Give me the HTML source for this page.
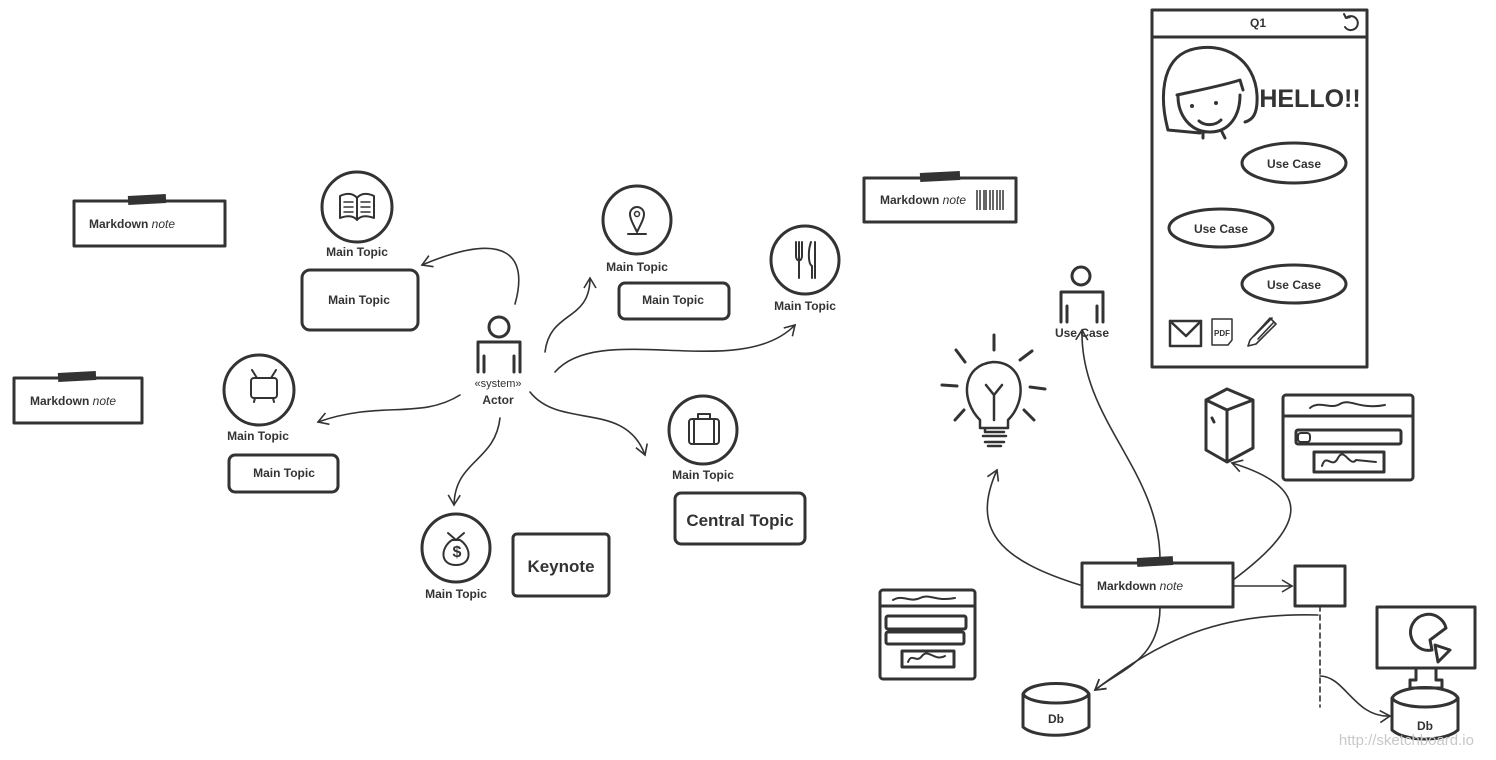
<!DOCTYPE html>
<html><head><meta charset="utf-8"><style>
html,body{margin:0;padding:0;background:#fff}
svg{display:block}
text{font-family:"Liberation Sans",sans-serif;fill:#333}
.b{font-weight:bold;font-size:12px}
</style></head><body>
<svg width="1496" height="760" viewBox="0 0 1496 760" xmlns="http://www.w3.org/2000/svg">
<defs>
<marker id="ah" markerWidth="14" markerHeight="14" refX="11" refY="7" orient="auto" markerUnits="userSpaceOnUse">
<path d="M1,1 L11,7 L1,13" fill="none" stroke="#333" stroke-width="1.6"/></marker>
</defs>
<g fill="none" stroke="#333" stroke-width="3" stroke-linejoin="round" stroke-linecap="round">
<!-- notes -->
<rect x="74" y="201" width="151" height="45"/>
<rect x="14" y="378" width="128" height="45"/>
<rect x="864" y="178" width="152" height="44"/>
<rect x="1082" y="563" width="151" height="44"/>
<!-- topic circles -->
<circle cx="357" cy="207" r="35"/>
<circle cx="259" cy="390" r="35"/>
<circle cx="637" cy="220" r="34"/>
<circle cx="805" cy="260" r="34"/>
<circle cx="703" cy="430" r="34"/>
<circle cx="456" cy="548" r="34"/>
<!-- topic boxes -->
<rect x="302" y="270" width="116" height="60" rx="8"/>
<rect x="229" y="455" width="109" height="37" rx="6"/>
<rect x="619" y="283" width="110" height="36" rx="6"/>
<rect x="675" y="493" width="130" height="51" rx="6"/>
<rect x="513" y="534" width="96" height="62" rx="4"/>
<!-- actor -->
<circle cx="499" cy="327" r="10"/>
<path d="M478,372 V342 H520 V372 M484,372 V356 M514,372 V356"/>
<circle cx="1081" cy="276" r="9"/>
<path d="M1061,322 V292 H1103 V322 M1067,322 V306 M1097,322 V306"/>
<!-- phone -->
<rect x="1152" y="10" width="215" height="357"/>
<line x1="1152" y1="37" x2="1367" y2="37"/>
<ellipse cx="1294" cy="163" rx="52" ry="20"/>
<ellipse cx="1221" cy="228" rx="52" ry="19"/>
<ellipse cx="1294" cy="284" rx="52" ry="19"/>
<!-- girl -->
<path d="M1168,130 C1160,100 1160,60 1190,50 C1225,40 1255,60 1257,95 C1258,115 1252,120 1245,122 M1177,95 C1200,90 1225,85 1240,80 L1243,90 M1178,96 C1178,115 1190,132 1210,132 C1230,132 1240,115 1240,95 M1168,130 L1200,133 M1203,132 L1203,138 M1222,132 L1225,138"/>
<path d="M1199,121 C1205,126 1215,126 1221,120"/>
<!-- lightbulb -->
<path d="M980,420 C960,400 962,365 993,362 C1025,362 1028,400 1008,420 V428 H980 Z M985,428 V432 H1004 M983,436 H1006 M985,442 H1004 M988,446 H1001 M994,420 V395 L986,385 M994,395 L1002,385" stroke-width="2.5"/>
<path d="M956,350 L965,362 M942,385 L957,386 M1030,387 L1045,389 M1020,360 L1032,351 M994,335 V350 M955,420 L964,410 M1034,420 L1024,410" stroke-width="3"/>
<!-- server -->
<path d="M1206,400 L1227,389 L1253,400 V448 L1227,462 L1206,450 Z M1206,400 L1227,410 L1253,400 M1227,410 V462 M1212,418 L1214,422"/>
<!-- window right -->
<rect x="1283" y="395" width="130" height="85" rx="3"/>
<line x1="1283" y1="416" x2="1413" y2="416"/>
<path d="M1310,408 C1320,400 1330,410 1340,404 S1360,410 1385,405" stroke-width="2"/>
<rect x="1296" y="430" width="105" height="14" rx="2"/>
<rect x="1298" y="433" width="12" height="9" rx="3" stroke-width="2"/>
<rect x="1314" y="452" width="70" height="20"/>
<path d="M1322,466 C1326,452 1332,470 1338,458 S1350,468 1356,460 L1376,462" stroke-width="2"/>
<!-- window left -->
<rect x="880" y="590" width="95" height="89" rx="3"/>
<line x1="880" y1="606" x2="975" y2="606"/>
<path d="M893,600 C903,594 910,603 920,598 S935,602 955,598" stroke-width="2"/>
<rect x="886" y="616" width="80" height="13" rx="2"/>
<rect x="886" y="632" width="78" height="12" rx="2"/>
<rect x="902" y="651" width="52" height="16"/>
<path d="M908,662 C912,652 916,664 922,656 S935,662 945,656" stroke-width="2"/>
<!-- small square -->
<rect x="1295" y="566" width="50" height="40"/>
<!-- Dbs -->
<path d="M1023,694 V727 C1035,738 1075,738 1089,727 V694 M1023,694 C1030,680 1082,680 1089,694 C1082,706 1030,706 1023,694"/>
<path d="M1392,698 V730 C1405,742 1445,742 1458,730 V698 M1392,698 C1400,684 1450,684 1458,698 C1450,710 1400,710 1392,698"/>
<!-- monitor -->
<rect x="1377" y="607" width="98" height="61"/>
<path d="M1416,668 V680 H1410 V688 H1442 V680 H1436 V668"/>
<path d="M1432,650 A18,18 0 1 1 1446,628 L1430,640 Z M1435,645 L1450,650 L1438,662 Z"/>
<!-- envelope pdf pencil -->
<rect x="1170" y="321" width="31" height="25" stroke-width="2.5"/>
<path d="M1170,321 L1186,336 L1201,321" stroke-width="2.5"/>
<path d="M1212,319 H1232 V340 L1228,345 H1212 Z" stroke-width="1.5"/>
<path d="M1250,340 L1270,318 L1276,324 L1256,344 L1248,346 Z M1254,336 L1272,318 M1258,339 L1274,322" stroke-width="1.6"/>
<path d="M1346,18 A7,7 0 1 1 1345,27 M1346,18 L1344,14 M1346,18 L1350,17" stroke-width="2"/>
<!-- icons inside circles -->
<path d="M340,196 C348,192 354,194 357,198 C360,194 366,192 374,196 V218 C366,215 360,216 357,220 C354,216 348,215 340,218 Z M357,198 V220" stroke-width="2"/>
<path d="M344,202 H353 M344,207 H353 M344,212 H353 M361,202 H370 M361,207 H370 M361,212 H370" stroke-width="1.5"/>
<rect x="251" y="378" width="26" height="20" rx="3" stroke-width="2"/>
<path d="M257,378 L252,370 M271,378 L276,370 M255,398 L254,402 M273,398 L274,402" stroke-width="2"/>
<path d="M637,232 C632,222 630,218 630,214 A7,7 0 0 1 644,214 C644,218 642,222 637,232 Z M628,234 H646" stroke-width="2"/>
<circle cx="637" cy="214" r="2.5" stroke-width="1.5"/>
<path d="M796,242 V256 C796,262 802,262 802,256 V242 M799,242 V278 M811,242 C808,250 808,264 812,266 V278 M815,242 V278" stroke-width="2"/>
<rect x="689" y="419" width="30" height="25" rx="3" stroke-width="2"/>
<path d="M698,419 V414 H710 V419 M694,419 V444 M714,419 V444" stroke-width="2"/>
<path d="M448,533 L456,540 L464,533 M452,540 C440,548 440,565 456,565 C472,565 472,548 460,540 Z" stroke-width="2"/>
<!-- connectors -->
<g stroke-width="1.6" marker-end="url(#ah)">
<path d="M515,304 C528,258 510,228 422,265"/>
<path d="M460,395 C420,420 380,400 318,422"/>
<path d="M500,418 C495,462 455,460 454,505"/>
<path d="M545,352 C550,310 590,322 590,278"/>
<path d="M555,372 C600,320 740,382 795,325"/>
<path d="M530,392 C560,430 625,400 645,455"/>
<path d="M1160,560 C1160,470 1080,420 1082,330"/>
<path d="M1080,585 C1000,560 970,530 997,470"/>
<path d="M1233,580 C1300,530 1320,490 1232,463"/>
<path d="M1233,586 H1292"/>
<path d="M1160,607 C1160,660 1120,670 1095,690"/>
<path d="M1318,615 C1220,612 1160,640 1095,690"/>
<path d="M1320,676 C1345,676 1355,718 1390,716"/>
</g>
<line x1="1320" y1="606" x2="1320" y2="707" stroke-width="1.6" stroke-dasharray="5,4"/>
</g>
<!-- tapes -->
<g fill="#333">
<rect x="128" y="195" width="38" height="9" transform="rotate(-3 147 199)"/>
<rect x="58" y="372" width="38" height="9" transform="rotate(-3 77 376)"/>
<rect x="920" y="172" width="40" height="9" transform="rotate(-3 940 176)"/>
<rect x="1137" y="557" width="36" height="9" transform="rotate(-3 1155 561)"/>
</g>
<g stroke="#333" stroke-width="1.5">
<path d="M977,190 V210 M980,190 V210 M984,190 V210 M986,190 V210 M990,190 V210 M993,190 V210 M997,190 V210 M1000,190 V210 M1003,190 V210"/>
</g>
<circle cx="1192" cy="106" r="2" fill="#333"/><circle cx="1216" cy="103" r="2" fill="#333"/>
<text x="457" y="557" font-size="16" text-anchor="middle" font-weight="bold">$</text>
<text x="1222" y="336" font-size="8" text-anchor="middle" font-weight="bold">PDF</text>
<!-- texts -->
<text class="b" x="89" y="228">Markdown <tspan font-style="italic" font-weight="normal">note</tspan></text>
<text class="b" x="30" y="405">Markdown <tspan font-style="italic" font-weight="normal">note</tspan></text>
<text class="b" x="880" y="204">Markdown <tspan font-style="italic" font-weight="normal">note</tspan></text>
<text class="b" x="1097" y="590">Markdown <tspan font-style="italic" font-weight="normal">note</tspan></text>
<g class="b" text-anchor="middle">
<text class="b" x="357" y="256">Main Topic</text>
<text class="b" x="359" y="304">Main Topic</text>
<text class="b" x="258" y="440">Main Topic</text>
<text class="b" x="284" y="477">Main Topic</text>
<text class="b" x="637" y="271">Main Topic</text>
<text class="b" x="673" y="304">Main Topic</text>
<text class="b" x="805" y="310">Main Topic</text>
<text class="b" x="703" y="479">Main Topic</text>
<text class="b" x="456" y="598">Main Topic</text>
<text class="b" x="498" y="404">Actor</text>
<text class="b" x="1082" y="337">Use Case</text>
<text class="b" x="1294" y="168">Use Case</text>
<text class="b" x="1221" y="233">Use Case</text>
<text class="b" x="1294" y="289">Use Case</text>
<text class="b" x="1258" y="27">Q1</text>
<text class="b" x="1056" y="723">Db</text>
<text class="b" x="1425" y="730">Db</text>
</g>
<text x="498" y="387" font-size="11" text-anchor="middle">«system»</text>
<text x="740" y="526" font-size="17" font-weight="bold" text-anchor="middle">Central Topic</text>
<text x="561" y="572" font-size="17" font-weight="bold" text-anchor="middle">Keynote</text>
<text x="1310" y="107" font-size="25" font-weight="bold" text-anchor="middle">HELLO!!</text>
<text x="1474" y="745" font-size="15" text-anchor="end" style="fill:#c8c8c8">http://sketchboard.io</text>
</svg>
</body></html>
